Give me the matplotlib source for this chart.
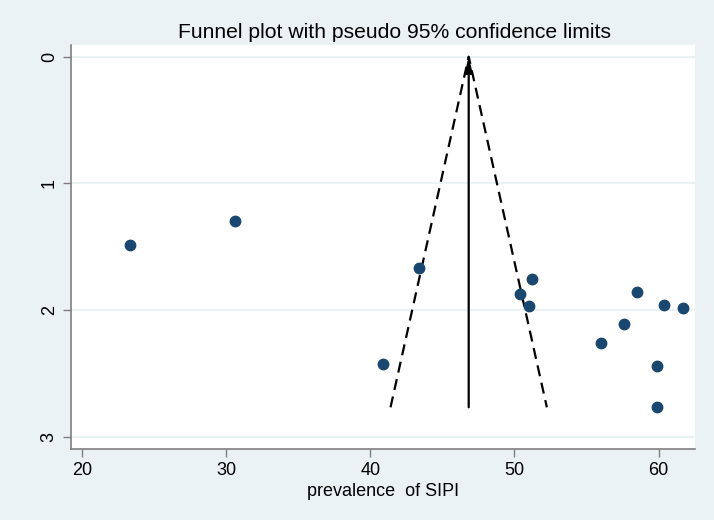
import numpy as np
import matplotlib
matplotlib.use('Agg')
import matplotlib.pyplot as plt

plt.rcParams['font.family'] = ['Liberation Sans', 'DejaVu Sans']

# study estimates
prevalence = [23.3, 30.6, 43.4, 40.9, 51.2, 50.4, 51.0, 58.5, 60.4, 61.7, 57.6, 56.0, 59.9, 59.9]
se = [1.486, 1.297, 1.668, 2.428, 1.755, 1.873, 1.968, 1.859, 1.960, 1.986, 2.107, 2.257, 2.439, 2.767]

pooled = 46.83
se_max = max(se)
x_ticks = [20, 30, 40, 50, 60]
y_ticks = [0, 1, 2, 3]

bg = '#eaf2f3'
navy = '#1a476f'

fig = plt.figure(figsize=(7.14, 5.20), dpi=100, facecolor=bg)
ax = fig.add_axes([71 / 714, 1 - 448.5 / 520, (695 - 71) / 714, (448.5 - 45) / 520])
ax.set_facecolor('white')

# pseudo 95% limits
ax.plot([pooled - 1.96 * se_max, pooled, pooled + 1.96 * se_max], [se_max, 0, se_max],
        color='black', lw=1.6, ls=(0, (5, 3)), zorder=2)
ax.annotate('', xy=(pooled, 0), xytext=(pooled, se_max),
            arrowprops=dict(arrowstyle='-|>,head_length=0.9,head_width=0.22', color='black', lw=1.6,
                            shrinkA=0, shrinkB=0), zorder=3)

ax.plot(prevalence, se, 'o', color=navy, markersize=7.5, zorder=4)

ax.set_xlim(19.24, 62.53)
ax.set_ylim(3.092, -0.092)
ax.set_xticks(x_ticks)
ax.set_yticks(y_ticks)
ax.grid(axis='y', color=bg, lw=1.5)
ax.set_axisbelow(True)

for s in ['top', 'right']:
    ax.spines[s].set_visible(False)
for s in ['left', 'bottom']:
    ax.spines[s].set_color('#7f7f7f')
    ax.spines[s].set_linewidth(1.2)
ax.tick_params(colors='#7f7f7f', labelcolor='black', length=6, width=1, labelsize=13)
for lbl in ax.get_yticklabels():
    lbl.set_rotation(90)
    lbl.set_va('center')

ax.set_xlabel('prevalence  of SIPI', fontsize=13, labelpad=3)
fig.text(395 / 714, 1 - 33 / 520, 'Funnel plot with pseudo 95% confidence limits',
         fontsize=15.2, ha='center', va='center')

fig.savefig('out.png', dpi=100, facecolor=bg)
